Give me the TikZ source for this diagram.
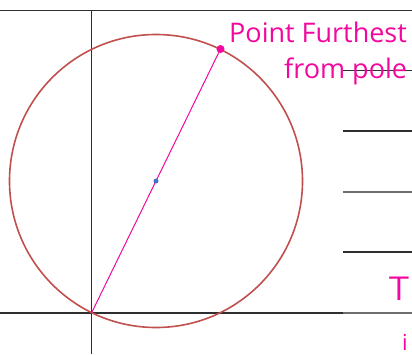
\documentclass[tikz,border=0pt]{standalone}
\usepackage{fontspec}
\setmainfont{Open Sans}
\usetikzlibrary{positioning,calc}
\definecolor{ink}{HTML}{2E2E2E}
\definecolor{rule}{HTML}{6E6E6E}
\definecolor{ring}{HTML}{C0504D}
\definecolor{marker}{HTML}{F2089E}
\definecolor{dotblue}{HTML}{4472C4}
\tikzset{
  axis/.style={draw=ink, line width=1.2pt},
  ruled/.style={draw=#1, line width=1.2pt},
  hand/.style={font=\fontsize{27}{29}\selectfont, text=marker, inner sep=0pt},
}
\begin{document}
\begin{tikzpicture}[x=1pt, y=-1pt]
    \useasboundingbox (0,0) rectangle (412,354);
    \clip (0,0) rectangle (412,354);
    % page rules
    \draw[axis] (0,10.5) -- (412,10.5);
    \foreach \y/\c in {70.5/ink, 131/ink, 192/rule, 252/ink} {
      \draw[ruled=\c] (343,\y) -- (412,\y);
    }
    % axes through the pole
    \coordinate (pole) at (91.5,313);
    \draw[axis] (0,313) -- (343,313);
    \draw[ruled=rule] (343,313) -- (412,313);
    \draw[axis] (91.5,10.5) -- (91.5,354);
    % circle through the pole
    \coordinate (mid) at (156,181);
    \draw[ring, line width=1.6pt] (mid) circle[radius=146.5];
    \coordinate (far) at ($(mid)!-1!(pole)$);
    \draw[marker, line width=1pt] (pole) -- (far);
    \fill[marker] (far) circle[radius=4];
    \fill[dotblue] (mid) circle[radius=2.5];
    % labels
    \node[hand, anchor=base west] (lbl1) at (229,42) {Point Furthest};
    \node[hand, anchor=base west] (lbl2) at (284,78) {from pole};
    \node[hand, font=\fontsize{34}{34}\selectfont\sffamily, anchor=base east] (lbl3) at (410,300) {T};
    \node[hand, font=\fontsize{22}{22}\selectfont, text depth=0pt, anchor=base east] (lbl4) at (408,350) {i};
  \end{tikzpicture}
\end{document}
